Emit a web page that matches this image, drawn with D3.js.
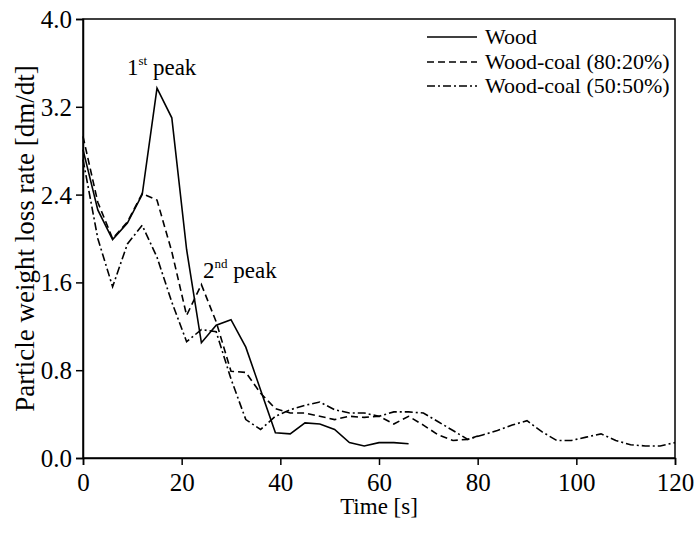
<!DOCTYPE html>
<html>
<head>
<meta charset="utf-8">
<script src="https://cdn.jsdelivr.net/npm/d3@7"></script>
<style>
  html, body { margin: 0; padding: 0; background: #fff; }
  svg { display: block; }
  text { font-family: "Liberation Serif", "Times New Roman", serif; fill: #000; }
</style>
</head>
<body>
<svg id="chart" width="697" height="534"></svg>
<script>
// ---- data ----
const woodT = [0,3,6,9,12,15,18,21,24,27,30,33,36,39,42,45,48,51,54,57,60,63,66];
const woodV = [2.81,2.26,1.99,2.14,2.40,3.37,3.10,1.90,1.05,1.21,1.26,1.01,0.62,0.23,0.22,0.32,0.31,0.26,0.14,0.11,0.14,0.14,0.13];

const mix80T = [0,3,6,9,12,15,18,21,24,27,30,33,36,39,42,45,48,51,54,57,60,63,66,69,72,75,78,80];
const mix80V = [2.93,2.33,2.00,2.15,2.41,2.35,1.88,1.30,1.58,1.24,0.79,0.78,0.59,0.45,0.41,0.41,0.38,0.35,0.38,0.37,0.38,0.31,0.38,0.30,0.21,0.16,0.17,0.20];

const mix50T = [0,3,6,9,12,15,18,21,24,27,30,33,36,39,42,45,48,51,54,57,60,63,66,69,72,75,78,81,84,87,90,93,96,99,102,105,108,111,114,117,120];
const mix50V = [2.72,2.00,1.56,1.95,2.12,1.83,1.42,1.06,1.17,1.15,0.72,0.35,0.26,0.38,0.44,0.48,0.51,0.44,0.41,0.41,0.38,0.42,0.42,0.41,0.33,0.25,0.17,0.21,0.25,0.30,0.34,0.24,0.16,0.16,0.19,0.22,0.16,0.12,0.11,0.11,0.14];

const seriesNames = ["Wood", "Wood-coal (80:20%)", "Wood-coal (50:50%)"];
const xTicks = [0,20,40,60,80,100,120];
const yTicks = [0.0,0.8,1.6,2.4,3.2,4.0];

// ---- layout ----
const svg = d3.select("#chart");
const L = 83, R = 675, T = 19, B = 458;
const x = d3.scaleLinear().domain([0,120]).range([L,R]);
const y = d3.scaleLinear().domain([0,4]).range([B,T]);

const dashes = [null, "7,4", "8,3,2,3"];
const series = [
  {t: woodT, v: woodV},
  {t: mix80T, v: mix80V},
  {t: mix50T, v: mix50V}
];

// frame
svg.append("rect").attr("x", L).attr("y", T).attr("width", R-L).attr("height", B-T)
  .attr("fill","none").attr("stroke","#000").attr("stroke-width",1.5);

// axes
const xAxis = svg.append("g").attr("transform",`translate(0,${B})`)
  .call(d3.axisBottom(x).tickValues(xTicks).tickFormat(d3.format("d")).tickSize(7).tickPadding(8));
const yAxis = svg.append("g").attr("transform",`translate(${L},0)`)
  .call(d3.axisLeft(y).tickValues(yTicks).tickFormat(d3.format(".1f")).tickSize(7).tickPadding(4));
[xAxis,yAxis].forEach(g => {
  g.select(".domain").attr("stroke","#000").attr("stroke-width",1.5);
  g.selectAll(".tick line").attr("stroke","#000").attr("stroke-width",1.5);
  g.selectAll(".tick text").style("font-family",'"Liberation Serif", serif').style("font-size","25px").attr("fill","#000");
});
yAxis.selectAll(".tick text").attr("dy","0.34em");

// lines
const line = d3.line().x(d => x(d[0])).y(d => y(d[1]));
series.forEach((s,i) => {
  const pts = s.t.map((t,j) => [t, s.v[j]]);
  svg.append("path").datum(pts).attr("d", line)
    .attr("fill","none").attr("stroke","#000").attr("stroke-width",1.6)
    .attr("stroke-linejoin","miter")
    .attr("stroke-dasharray", dashes[i]);
});

// axis titles
svg.append("text").attr("x", (L+R)/2).attr("y", 514).attr("text-anchor","middle")
  .style("font-size","23px").text("Time [s]");
svg.append("text").attr("transform",`translate(34,${(T+B)/2}) rotate(-90)`).attr("text-anchor","middle")
  .style("font-size","27px").text("Particle weight loss rate [dm/dt]");

// legend
const legY = [37, 62, 86];
seriesNames.forEach((n,i) => {
  svg.append("line").attr("x1",427).attr("x2",477).attr("y1",legY[i]).attr("y2",legY[i])
    .attr("stroke","#000").attr("stroke-width",1.6).attr("stroke-dasharray", dashes[i]);
  svg.append("text").attr("x",485).attr("y",legY[i]).attr("dy","0.33em")
    .style("font-size","22px").text(n);
});

// annotations
function peakLabel(px, py, num, sup) {
  const t = svg.append("text").attr("x", px).attr("y", py).style("font-size","23px");
  t.append("tspan").text(num);
  t.append("tspan").attr("dy", -10).style("font-size","13px").text(sup);
  t.append("tspan").attr("dy", 10).text(" peak");
}
peakLabel(127, 75, "1", "st");
peakLabel(203, 278, "2", "nd");
</script>
</body>
</html>
